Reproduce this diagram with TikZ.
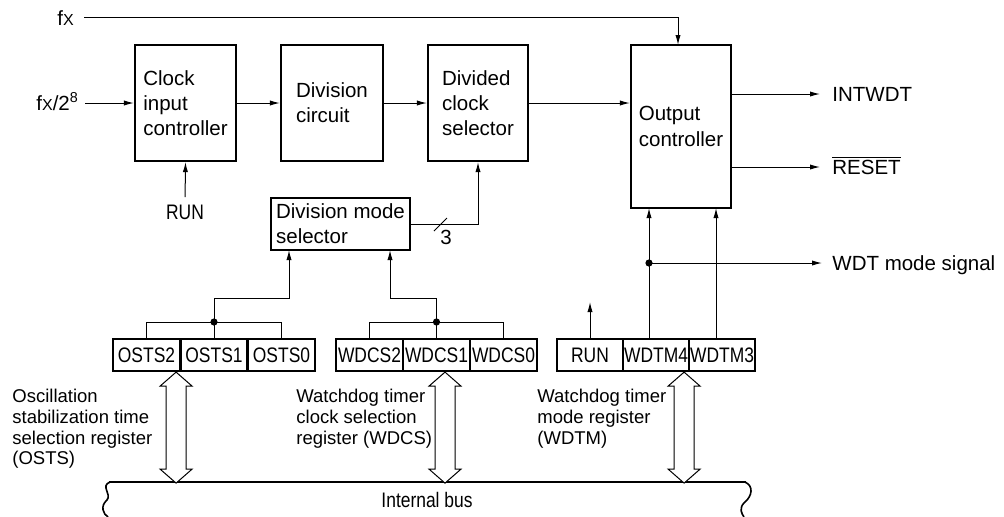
\documentclass[tikz,border=0pt]{standalone}
\usepackage{fontspec}
\setmainfont{Liberation Sans}
\newfontfamily\narrowfont{Liberation Sans}[FakeStretch=0.83]
\usetikzlibrary{arrows.meta}

\tikzset{
  blk/.style={draw, line width=1.1pt, inner sep=0pt, align=left,
    font=\fontsize{10.25pt}{12.6pt}\selectfont},
  cell/.style={draw, line width=1.1pt, inner sep=0pt, minimum height=16pt,
    font=\narrowfont\fontsize{10.5pt}{12pt}\selectfont},
  lbl/.style={inner sep=0pt, font=\fontsize{10.25pt}{12.6pt}\selectfont},
  nlbl/.style={inner sep=0pt, font=\narrowfont\fontsize{10.5pt}{12pt}\selectfont},
  note/.style={inner sep=0pt, align=left, anchor=north west,
    font=\fontsize{9.25pt}{10.35pt}\selectfont},
  sig/.style={line width=0.5pt, -{Latex[length=5pt,width=2.6pt]}},
  wire/.style={line width=0.5pt},
  junction/.style={circle, fill, inner sep=0pt, minimum size=3.6pt},
  busarrow/.pic={
    \draw[line width=0.5pt, fill=white]
      (0,0) -- (16,14) -- (10,14) -- (10,97) -- (16,97) -- (0,111)
      -- (-16,97) -- (-10,97) -- (-10,14) -- (-16,14) -- cycle;
  }
}

\begin{document}
\begin{tikzpicture}[x=0.5pt, y=-0.5pt]
\useasboundingbox (0,0) rectangle (1004,516);

% functional blocks
\node[blk, minimum width=50.5pt, minimum height=58pt] (cic) at (185.5,103) {Clock\\input\\controller};
\node[blk, minimum width=51pt, minimum height=58pt] (div) at (332,103) {Division\\circuit};
\node[blk, minimum width=50pt, minimum height=58pt] (dcs) at (478,103) {Divided\\clock\\selector};
\node[blk, minimum width=50pt, minimum height=81.5pt] (out) at (681,126.5) {Output\\controller};
\node[blk, minimum width=69.5pt, minimum height=26pt] (dms) at (340.5,224) {Division mode\\selector};

% register bits
\node[cell, minimum width=33.5pt] (osts2) at (146.5,355) {OSTS2};
\node[cell, minimum width=33.5pt] (osts1) at (214,355) {OSTS1};
\node[cell, minimum width=33.5pt] (osts0) at (281.5,355) {OSTS0};
\node[cell, minimum width=33.5pt] (wdcs2) at (369.5,355) {WDCS2};
\node[cell, minimum width=33.5pt] (wdcs1) at (436.5,355) {WDCS1};
\node[cell, minimum width=33.5pt] (wdcs0) at (503.5,355) {WDCS0};
\node[cell, minimum width=33pt] (wrun) at (590,355) {RUN};
\node[cell, minimum width=33pt] (wdtm4) at (656,355) {WDTM4};
\node[cell, minimum width=33pt] (wdtm3) at (722,355) {WDTM3};

% signal names
\node[lbl, anchor=base west] (fx) at (57,25) {f{\fontsize{8pt}{9pt}\selectfont X}};
\node[lbl, anchor=base west] (fx8) at (36,110) {f{\fontsize{8pt}{9pt}\selectfont X}/2\textsuperscript{8}};
\node[nlbl, anchor=base] (run) at (185,219) {RUN};
\node[lbl, anchor=base west] (intwdt) at (832,101.5) {INTWDT};
\node[lbl, anchor=base west] (reset) at (832,174.5) {$\overline{\mbox{RESET}}$};
\node[lbl, anchor=base west] (wdtsig) at (832,270) {WDT mode signal};
\node[lbl, anchor=base] (three) at (446,244) {3};

% clock path
\coordinate (fxin) at (678,45);
\draw[sig, shorten <=5pt] (fx.east |- 0,17) -| (fxin);
\draw[sig, shorten <=3pt] (fx8.east |- cic.west) -- (cic.west);
\draw[sig] (cic.east) -- (div.west);
\draw[sig] (div.east) -- (dcs.west);
\draw[sig] (dcs.east) -- (dcs.east -| out.west);
\draw[sig, shorten <=3.5pt] (run.north) -- (cic.south);

% outputs
\draw[sig, shorten >=6pt] (out.east |- 0,94) -- (intwdt.west |- 0,94);
\draw[sig, shorten >=6pt] (out.east |- 0,167) -- (reset.west |- 0,167);

% division mode selection
\draw[sig] (dms.east) -| (dcs.south);
\draw[wire] (434,231) -- (447,218);

% OSTS bits
\coordinate (ostsj) at (osts1.north |- 0,322);
\draw[wire] (osts2.north) |- (osts0.north |- ostsj) -- (osts0.north);
\draw[wire] (osts1.north) -- (ostsj);
\node[junction] at (ostsj) {};
\coordinate (dmsa) at (289,250);
\draw[sig] (ostsj) |- (dmsa |- 0,298) -- (dmsa);

% WDCS bits
\coordinate (wdcsj) at (wdcs1.north |- 0,322);
\draw[wire] (wdcs2.north) |- (wdcs0.north |- wdcsj) -- (wdcs0.north);
\draw[wire] (wdcs1.north) -- (wdcsj);
\node[junction] at (wdcsj) {};
\coordinate (dmsb) at (390,250);
\draw[sig] (wdcsj) |- (dmsb |- 0,298) -- (dmsb);

% WDTM bits
\coordinate (runout) at (590,302);
\draw[sig] (wrun.north) -- (runout);
\coordinate (wdtm4in) at (649,208);
\coordinate (wdtm3in) at (716,208);
\draw[sig] (wdtm4.north -| wdtm4in) -- (wdtm4in);
\draw[sig] (wdtm3.north -| wdtm3in) -- (wdtm3in);
\coordinate (wdtmj) at (649,263);
\node[junction] at (wdtmj) {};
\draw[sig, shorten >=5pt] (wdtmj) -- (wdtsig.west |- wdtmj);

% internal bus
\draw[line width=1.2pt] (109,482) -- (746,482);
\draw[line width=0.8pt] (110,482) .. controls (100,486) and (112,494) .. (107,500)
  .. controls (100,506) and (103,514) .. (108,517);
\draw[line width=0.8pt] (745,482) .. controls (754,486) and (752,496) .. (745,502)
  .. controls (738,508) and (742,514) .. (744,517);
\node[nlbl] (bus) at (427,500) {Internal bus};

% register access to the bus
\pic at ([xshift=-2.5pt]osts2.south east) {busarrow};
\pic at ([xshift=4.25pt]wdcs1.south) {busarrow};
\pic at ([xshift=-3pt]wdtm4.south east) {busarrow};

% register names
\node[note] (ostsname) at (12,389) {Oscillation\\stabilization time\\selection register\\(OSTS)};
\node[note] (wdcsname) at (296,389) {Watchdog timer\\clock selection\\register (WDCS)};
\node[note] (wdtmname) at (537,389) {Watchdog timer\\mode register\\(WDTM)};
\end{tikzpicture}
\end{document}
